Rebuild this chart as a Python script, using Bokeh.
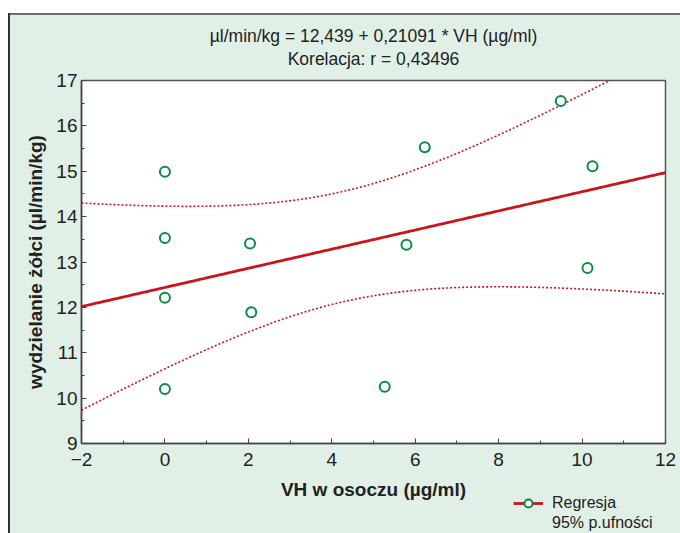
import numpy as np
from bokeh.plotting import figure
from bokeh.layouts import column
from bokeh.models import Legend, LegendItem, FixedTicker, ColumnDataSource, Range1d, Label
from bokeh.embed import file_html
from bokeh.resources import INLINE

# ---- data ----
vh_x = [0.0, 0.0, 0.0, 0.0, 2.04, 2.07, 5.27, 5.79, 6.23, 9.49, 10.25, 10.13]
bile_y = [14.99, 13.53, 12.21, 10.20, 13.41, 11.89, 10.25, 13.38, 15.53, 16.55, 15.11, 12.87]
intercept = 12.439
slope = 0.21091
r_value = "0,43496"
x_ticks = [-2, 0, 2, 4, 6, 8, 10, 12]
y_ticks = [9, 10, 11, 12, 13, 14, 15, 16, 17]
title1 = "\u00b5l/min/kg = 12,439 + 0,21091 * VH (\u00b5g/ml)"
title2 = "Korelacja: r = " + r_value
x_label = "VH w osoczu (\u00b5g/ml)"
y_label = "wydzielanie \u017c\u00f3\u0142ci (\u00b5l/min/kg)"
legend_labels = ["Regresja", "95% p.ufno\u015bci"]

FONT = "Liberation Sans"
RED = "#c8161e"
GREEN = "#0e8a46"
TXT = "#222222"
PANEL = "#e0f0e6"
LEFT_EDGE = "linear-gradient(to right, #ffffff 0px, #ffffff 8px, #333333 8px, #333333 10px, transparent 10px), "

# ---- regression and 95% confidence band ----
xa = np.array(vh_x)
ya = np.array(bile_y)
n = len(xa)
resid = ya - (intercept + slope * xa)
s = np.sqrt(np.sum(resid ** 2) / (n - 2))
xbar = xa.mean()
sxx = np.sum((xa - xbar) ** 2)
t_crit = 2.228  # t(0.975, df=10)
xs = np.linspace(x_ticks[0], x_ticks[-1], 200)
fit = intercept + slope * xs
hw = t_crit * s * np.sqrt(1.0 / n + (xs - xbar) ** 2 / sxx)

FL, FR = 81, 665  # frame left / right on the page (strips share the main frame's columns)
TOP_H = 70        # height of the title strip
MAIN_TOP = 10     # room above the frame for the top tick label


def strip(height):
    f = figure(width=680, height=height, min_border=0, x_range=Range1d(FL, FR),
               y_range=Range1d(height, 0), x_axis_type=None, y_axis_type=None,
               output_backend="svg", toolbar_location=None)
    f.border_fill_alpha = 0
    f.background_fill_alpha = 0
    f.outline_line_color = None
    f.grid.visible = False
    return f


# ================= top strip: the two title lines =================
t = strip(TOP_H)
t.styles = {
    "background": "linear-gradient(to bottom, #ffffff 0px, #ffffff 13px, transparent 13px), "
                  + LEFT_EDGE +
                  "linear-gradient(to bottom, transparent 13px, #6e6e6e 13px, #6e6e6e 15px, transparent 15px), "
                  + PANEL
}
for txt, yy in ((title1, 35), (title2, 58)):
    t.add_layout(Label(x=(FL + FR) / 2, y=yy, text=txt, text_align="center", text_baseline="middle",
                       text_font=FONT, text_font_size="17.5px", text_color=TXT))

# ================= main chart =================
p = figure(
    frame_width=584, frame_height=363,
    min_border_left=81, min_border_right=15, min_border_top=MAIN_TOP, min_border_bottom=32,
    x_range=Range1d(x_ticks[0], x_ticks[-1]), y_range=Range1d(y_ticks[0], y_ticks[-1]),
    output_backend="svg", toolbar_location=None,
)
p.border_fill_alpha = 0
p.background_fill_color = "white"
p.outline_line_color = "#555555"
p.outline_line_width = 1.5
p.grid.visible = False
p.styles = {"background": LEFT_EDGE + PANEL}

for ax, ticks in ((p.xaxis, x_ticks), (p.yaxis, y_ticks)):
    ax.ticker = FixedTicker(ticks=ticks, minor_ticks=list(np.arange(ticks[0], ticks[-1], (ticks[1] - ticks[0]) / 2.0)))
    ax.major_tick_in = 5
    ax.major_tick_out = 0
    ax.minor_tick_in = 3
    ax.minor_tick_out = 0
    ax.axis_line_color = "#444444"
    ax.axis_line_width = 1.5
    ax.major_tick_line_color = "#444444"
    ax.minor_tick_line_color = "#444444"
    ax.major_label_text_font = FONT
    ax.major_label_text_font_size = "19px"
    ax.major_label_text_color = TXT
    ax.axis_label_text_font = FONT
    ax.axis_label_text_font_size = "19px"
    ax.axis_label_text_font_style = "bold"
    ax.axis_label_text_color = TXT

p.yaxis.axis_label = y_label
p.xaxis.major_label_standoff = 9
p.yaxis.major_label_standoff = 4
p.yaxis.axis_label_standoff = 7

band_src = ColumnDataSource(dict(x=xs, fit=fit, lo=fit - hw, hi=fit + hw))
p.line("x", "lo", source=band_src, line_color=RED, line_width=1.6, line_dash="2 2")
p.line("x", "hi", source=band_src, line_color=RED, line_width=1.6, line_dash="2 2")
p.line("x", "fit", source=band_src, line_color=RED, line_width=2.8)
p.scatter(vh_x, bile_y, size=10, marker="circle", line_color=GREEN, line_width=2,
          fill_color="white")

# ================= bottom strip: x-axis title and legend =================
q = strip(58)
q.styles = {"background": LEFT_EDGE + PANEL}
q.add_layout(Label(x=373, y=14, text=x_label, text_align="center", text_baseline="middle",
                   text_font=FONT, text_font_size="19px", text_font_style="bold", text_color=TXT))

# legend proxies (NaN data: nothing is drawn in the strip, only the legend glyphs)
lr = q.line(x=[np.nan, np.nan], y=[np.nan, np.nan], line_color=RED, line_width=2.8)
sr = q.scatter(x=[np.nan], y=[np.nan], marker="circle", line_color=GREEN, line_width=2,
               fill_color="white")
dr = q.line(x=[np.nan, np.nan], y=[np.nan, np.nan], line_alpha=0)
legend = Legend(
    items=[LegendItem(label=legend_labels[0], renderers=[lr, sr]),
           LegendItem(label=legend_labels[1], renderers=[dr])],
    location=(513 - FL, 0), padding=0, margin=0, spacing=0,
    glyph_width=30, glyph_height=20, label_height=19, label_standoff=9,
    label_text_font=FONT, label_text_font_size="16px", label_text_color=TXT,
    background_fill_alpha=0, border_line_alpha=0,
)
q.add_layout(legend, "center")

open("out.html", "w").write(file_html(column(t, p, q, spacing=0), INLINE))
